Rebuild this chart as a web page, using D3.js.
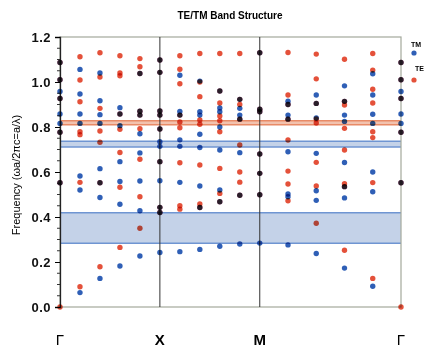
<!DOCTYPE html>
<html>
<head>
<meta charset="utf-8">
<script src="https://cdn.jsdelivr.net/npm/d3@7"></script>
<style>
  body { margin: 0; background: #fff; }
  svg { font-family: "Liberation Sans", Arial, sans-serif; }
  .dot { mix-blend-mode: multiply; }
</style>
</head>
<body>
<svg id="chart" width="433" height="354"></svg>
<script>
// k-path: Γ -> X -> M -> Γ, 5 steps per segment
const kLabels = ["Γ", "X", "M", "Γ"];
const kLabelPos = [0, 1, 2, 2 + Math.SQRT2];
const kPos = [0, 0.2, 0.4, 0.6, 0.8, 1, 1.2, 1.4, 1.6, 1.8, 2,
    2 + Math.SQRT2 * 0.2, 2 + Math.SQRT2 * 0.4, 2 + Math.SQRT2 * 0.6, 2 + Math.SQRT2 * 0.8, 2 + Math.SQRT2];

// frequencies per k point
const teFreq = [
    [1.087, 1.01, 0.927, 0.777, 0.552, 0],
    [1.112, 1.009, 0.912, 0.779, 0.766, 0.554, 0.09],
    [1.13, 1.022, 0.883, 0.782, 0.732, 0.552, 0.179],
    [1.117, 1.04, 1.028, 0.858, 0.79, 0.687, 0.532, 0.265],
    [1.104, 1.068, 1.038, 0.87, 0.853, 0.792, 0.657, 0.49, 0.35],
    [1.098, 1.043, 0.871, 0.853, 0.791, 0.646, 0.443, 0.42],
    [1.117, 1.057, 0.992, 0.853, 0.822, 0.797, 0.641, 0.45, 0.435],
    [1.127, 1.0, 0.935, 0.831, 0.812, 0.631, 0.458, 0.442],
    [1.127, 0.96, 0.907, 0.849, 0.828, 0.779, 0.616, 0.505, 0.468],
    [1.127, 0.923, 0.9, 0.835, 0.72, 0.6, 0.555, 0.497],
    [1.13, 0.879, 0.868, 0.68, 0.594, 0.499],
    [1.131, 0.942, 0.9, 0.835, 0.742, 0.604, 0.547, 0.472],
    [1.124, 1.014, 0.905, 0.836, 0.818, 0.643, 0.538, 0.372],
    [1.101, 0.914, 0.898, 0.794, 0.698, 0.548, 0.535, 0.252],
    [1.127, 1.053, 0.968, 0.907, 0.779, 0.753, 0.553, 0.127],
    [1.087, 1.01, 0.927, 0.777, 0.552, 0]
];
const tmFreq = [
    [1.087, 1.01, 0.958, 0.927, 0.858, 0.816, 0.777, 0.552],
    [1.056, 0.947, 0.858, 0.816, 0.582, 0.52, 0.064],
    [1.04, 0.917, 0.855, 0.816, 0.615, 0.552, 0.487, 0.127],
    [0.886, 0.858, 0.806, 0.646, 0.558, 0.457, 0.182],
    [1.038, 0.87, 0.853, 0.77, 0.685, 0.56, 0.428, 0.227],
    [1.098, 1.043, 0.871, 0.853, 0.791, 0.735, 0.714, 0.646, 0.561, 0.443, 0.42, 0.242],
    [1.03, 0.869, 0.853, 0.743, 0.714, 0.554, 0.246],
    [1.004, 0.868, 0.853, 0.768, 0.709, 0.538, 0.442, 0.256],
    [0.96, 0.885, 0.868, 0.8, 0.698, 0.52, 0.468, 0.27],
    [0.923, 0.883, 0.853, 0.835, 0.686, 0.497, 0.28],
    [1.13, 0.879, 0.868, 0.68, 0.594, 0.499, 0.284],
    [0.915, 0.9, 0.853, 0.835, 0.69, 0.502, 0.49, 0.276],
    [0.942, 0.905, 0.84, 0.683, 0.517, 0.474, 0.238],
    [0.983, 0.914, 0.853, 0.825, 0.642, 0.535, 0.485, 0.173],
    [1.037, 0.942, 0.857, 0.816, 0.6, 0.512, 0.092],
    [1.087, 1.01, 0.958, 0.927, 0.858, 0.816, 0.777, 0.552]
];

// photonic band gaps
const gapLo = [0.283, 0.711, 0.81];
const gapHi = [0.419, 0.737, 0.828];
const gapPol = ["TM", "TM", "TE"];

const yTicks = [0, 0.2, 0.4, 0.6, 0.8, 1.0, 1.2];

const colors = { TE: "#e4513a", TM: "#2f5fb6" };
const gapFill = { TM: "#c4d2e8", TE: "#f2c2ae" };
const gapEdge = { TM: "#6f95d2", TE: "#e88a66" };

const svg = d3.select("#chart");
const margin = { top: 37, right: 32, bottom: 47, left: 60 };
const width = +svg.attr("width");
const height = +svg.attr("height");

const x = d3.scaleLinear()
    .domain([0, 2 + Math.SQRT2])
    .range([margin.left, width - margin.right]);
const y = d3.scaleLinear()
    .domain([0, 1.2])
    .range([height - margin.bottom, margin.top]);

// title
svg.append("text")
    .attr("x", 230).attr("y", 19)
    .attr("text-anchor", "middle")
    .style("font-size", "10px").style("font-weight", "bold")
    .text("TE/TM Band Structure");

// gap bands (behind the dots)
const gaps = gapLo.map((lo, i) => ({ lo: lo, hi: gapHi[i], pol: gapPol[i] }));
const gapG = svg.append("g");
gapG.selectAll("rect").data(gaps).enter().append("rect")
    .attr("x", x(0)).attr("width", x(2 + Math.SQRT2) - x(0))
    .attr("y", d => y(d.hi)).attr("height", d => y(d.lo) - y(d.hi))
    .attr("fill", d => gapFill[d.pol]);
gaps.forEach(d => {
    [d.lo, d.hi].forEach(v => {
        gapG.append("line")
            .attr("x1", x(0)).attr("x2", x(2 + Math.SQRT2))
            .attr("y1", y(v)).attr("y2", y(v))
            .attr("stroke", gapEdge[d.pol]).attr("stroke-width", 1.5);
    });
});

// frame
svg.append("rect")
    .attr("x", x(0)).attr("y", y(1.2))
    .attr("width", x(2 + Math.SQRT2) - x(0)).attr("height", y(0) - y(1.2))
    .attr("fill", "none").attr("stroke", "#a3a89c").attr("stroke-width", 1.2);

// symmetry point lines
svg.selectAll(".kline").data(kLabelPos.slice(1, 3)).enter().append("line")
    .attr("x1", d => x(d)).attr("x2", d => x(d))
    .attr("y1", y(1.2)).attr("y2", y(0))
    .attr("stroke", "#333").attr("stroke-width", 1);

// y axis
const yAxis = d3.axisLeft(y).tickValues(yTicks).tickFormat(d3.format(".1f")).tickSize(5);
const yAxisG = svg.append("g")
    .attr("transform", `translate(${x(0)},0)`)
    .call(yAxis);
yAxisG.select(".domain").attr("stroke", "#222").attr("stroke-width", 1.3);
yAxisG.selectAll("text")
    .style("font-size", "13px").style("font-weight", "bold").attr("fill", "#111")
    .style("letter-spacing", "0.5px")
    .attr("x", -9);
const minor = d3.range(0, 1.2001, 0.05).filter(v => Math.abs(v * 5 - Math.round(v * 5)) > 1e-6);
svg.append("g").selectAll("line").data(minor).enter().append("line")
    .attr("x1", x(0) - 3).attr("x2", x(0))
    .attr("y1", d => y(d)).attr("y2", d => y(d))
    .attr("stroke", "#333");

// x labels
svg.selectAll(".klabel").data(kLabels).enter().append("text")
    .attr("x", (d, i) => x(kLabelPos[i]))
    .attr("y", 345)
    .attr("text-anchor", "middle")
    .style("font-size", "15px")
    .style("font-weight", d => d === "Γ" ? "normal" : "bold")
    .text(d => d);

// y title
svg.append("text")
    .attr("transform", `translate(20,${(y(0) + y(1.2)) / 2 + 3}) rotate(-90)`)
    .attr("text-anchor", "middle")
    .style("font-size", "11px")
    .text("Frequency (ωa/2πc=a/λ)");

// dots
const points = [];
tmFreq.forEach((list, k) => list.forEach(f => points.push({ k: k, f: f, pol: "TM" })));
teFreq.forEach((list, k) => list.forEach(f => points.push({ k: k, f: f, pol: "TE" })));
svg.append("g").selectAll("circle").data(points).enter().append("circle")
    .attr("class", "dot")
    .attr("cx", d => x(kPos[d.k]))
    .attr("cy", d => y(d.f))
    .attr("r", 2.7)
    .attr("fill", d => colors[d.pol]);

// legend
const legend = [{ pol: "TM", ty: 47, dy: 53 }, { pol: "TE", ty: 71, dy: 80 }];
const lg = svg.append("g");
legend.forEach(d => {
    lg.append("text").attr("x", d.pol === "TM" ? 411 : 415).attr("y", d.ty)
        .style("font-size", "7px").style("font-weight", "bold").text(d.pol);
    lg.append("circle").attr("cx", 414).attr("cy", d.dy).attr("r", 2.6)
        .attr("fill", colors[d.pol]);
});
</script>
</body>
</html>
